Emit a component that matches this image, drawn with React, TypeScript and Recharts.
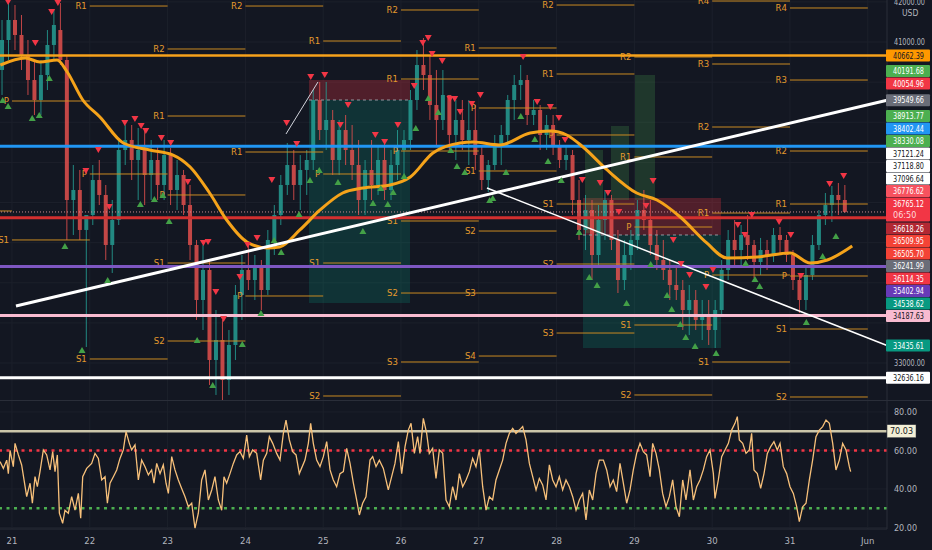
import React from "react";
import {
  ComposedChart,
  Bar,
  Line,
  Scatter,
  XAxis,
  YAxis,
  CartesianGrid,
  ReferenceLine,
  ReferenceArea,
} from "recharts";

const BG = "#131722";
const AXIS_TEXT = "#b2b5be";
const GRID = "#1c202b";
const UP = "#26a69a";
const DOWN = "#ef5350";
const PIVOT = "#c98a22";
const NARROW = "'Liberation Sans Narrow', 'DejaVu Sans Condensed', 'Liberation Sans', sans-serif";

const DAY_TICKS = [21, 22, 23, 24, 25, 26, 27, 28, 29, 30, 31, 32];
const X_DOMAIN: [number, number] = [20.8458, 32.247];
const PRICE_DOMAIN: [number, number] = [32079, 42047];
const RSI_DOMAIN: [number, number] = [19.22, 85.71];
const MAIN_H = 400;

// 2h candles, the first one opens 20 May 20:00
const BAR_START = 20.8333;
const opens = [
  40303, 41050, 41549, 41175, 40676, 40053, 39555, 40178, 40926, 41299,
  40552, 37063, 37312, 36316, 36689, 37561, 37188, 35942, 36565, 38309,
  38558, 38060, 38309, 37686, 38060, 37437, 38184, 37312, 37686, 36938,
  35942, 34571, 35319, 33076, 33574, 32577, 33450, 34696, 35319, 35069,
  35443, 34820, 36067, 36689, 37437, 37935, 37437, 37811, 38060, 39555,
  38807, 39057, 38060, 38807, 38309, 37935, 37063, 37811, 37437, 38060,
  37312, 37935, 38309, 38558, 39555, 40427, 40178, 39430, 39057, 39680,
  38683, 39057, 38558, 38807, 38184, 37561, 37935, 38434, 38683, 39555,
  39929, 40053, 39181, 39306, 38683, 38932, 38434, 38060, 38184, 37063,
  36316, 36814, 35692, 36565, 37063, 36067, 35069, 35692, 36067, 36814,
  36565, 35942, 35568, 35319, 34945, 34820, 34322, 34571, 34073, 34197,
  33823, 34322, 35319, 36067, 35817, 36191, 35942, 35518, 35817, 35692,
  36191, 36067, 35692, 35069, 34571, 35194, 35942, 36689, 36938, 37188,
  37063,
];
const highs = [
  41549, 41997, 41922, 41673, 41050, 40552, 40552, 41299, 41798, 41972,
  40676, 37935, 37811, 36565, 37935, 38060, 37437, 37063, 38558, 38932,
  38932, 38857, 38807, 38558, 38434, 38558, 38359, 38060, 37811, 37437,
  36067, 35942, 35568, 34322, 34073, 33823, 34945, 35692, 35942, 35692,
  35568, 36316, 36938, 37686, 38483, 38309, 38184, 38309, 39804, 40004,
  40004, 39306, 39057, 39181, 38932, 38558, 38060, 38558, 38434, 38558,
  38309, 38807, 38807, 39804, 40801, 41100, 40676, 40303, 40303, 39680,
  39555, 39555, 39555, 39430, 38434, 38060, 38683, 38932, 39680, 40178,
  40427, 40178, 39555, 39430, 39181, 39181, 38558, 38434, 38309, 37561,
  37188, 37063, 36938, 37312, 37188, 36316, 36067, 36316, 37063, 37312,
  37063, 36316, 36067, 35568, 35443, 35069, 34945, 34820, 34571, 34571,
  34571, 35568, 36316, 36565, 36440, 36689, 36067, 36117, 36067, 36365,
  36390, 36191, 35817, 35194, 35443, 36191, 36814, 37237, 37412, 37487,
  37437,
];
const lows = [
  39680, 40552, 40801, 40303, 39680, 39181, 39181, 39804, 40552, 40427,
  36067, 36191, 36067, 33400, 36440, 36938, 35568, 35244, 36440, 37935,
  37561, 37063, 36938, 37063, 37063, 37063, 36938, 36814, 36689, 35568,
  34073, 33823, 32453, 32204, 31950, 32204, 33076, 34073, 34820, 34571,
  34322, 34696, 35692, 36440, 37188, 37063, 36814, 37188, 37811, 38558,
  38309, 37686, 37686, 37935, 37561, 36689, 36689, 37063, 37188, 37063,
  37063, 37561, 37561, 38309, 39306, 39804, 39057, 38434, 38807, 38309,
  38060, 38309, 37935, 37811, 37312, 37262, 37811, 37935, 38434, 39057,
  39555, 38932, 38932, 38309, 38309, 38184, 37860, 37811, 36689, 36067,
  35817, 35069, 35443, 36067, 35817, 34745, 34820, 35319, 35817, 36316,
  35692, 35319, 35069, 34571, 34571, 33823, 33699, 33823, 33574, 33450,
  33375, 34197, 35069, 35443, 35443, 35568, 35119, 35194, 35319, 35518,
  35692, 35518, 34820, 34247, 34322, 35069, 35817, 36440, 36515, 36689,
  36739,
];
const closes = [
  41050, 41549, 41175, 40676, 40053, 39555, 40178, 40926, 41424, 40552,
  37063, 37312, 36316, 36689, 37561, 37188, 35942, 36565, 38309, 38558,
  38060, 38309, 37686, 38060, 37437, 38184, 37312, 37686, 36938, 35942,
  34571, 35319, 33076, 33574, 32577, 33450, 34696, 35319, 35069, 35443,
  34820, 36067, 36689, 37437, 37935, 37437, 37811, 38060, 39555, 38807,
  39057, 38060, 38807, 38309, 37935, 37063, 37811, 37437, 38060, 37312,
  37935, 38309, 38558, 39555, 40427, 40178, 39430, 39057, 39680, 38683,
  39057, 38558, 38807, 38184, 37561, 37935, 38434, 38683, 39555, 39929,
  40053, 39181, 39306, 38683, 38932, 38434, 38060, 38184, 37063, 36316,
  36814, 35692, 36565, 37063, 36067, 35069, 35692, 36067, 36814, 36565,
  35942, 35568, 35319, 34945, 34820, 34322, 34571, 34073, 34197, 33823,
  34322, 35319, 36067, 35817, 36191, 35942, 35518, 35817, 35692, 36191,
  36067, 35692, 35069, 34571, 35194, 35942, 36689, 36938, 37188, 37063,
  36765.12,
];

// moving average (time in days, price)
const maLine: [number, number][] = [
  [20.85, 40427], [21.17, 40602], [21.36, 40502], [21.58, 40552], [21.71, 40253],
  [21.91, 39555], [22.13, 39131], [22.43, 38483], [22.77, 38309], [23.07, 38184],
  [23.29, 37885], [23.54, 37237], [23.76, 36565], [24.02, 36017], [24.28, 35867],
  [24.44, 35892], [24.7, 36316], [24.96, 36814], [25.25, 37237], [25.51, 37362],
  [25.86, 37437], [26.12, 37636], [26.41, 38234], [26.76, 38483], [26.93, 38508],
  [27.27, 38434], [27.66, 38733], [27.92, 38782], [28.13, 38683], [28.34, 38384],
  [28.65, 37811], [29.03, 37237], [29.29, 37063], [29.59, 36639], [29.93, 35992],
  [30.19, 35618], [30.58, 35643], [31.0, 35742], [31.26, 35493], [31.48, 35568],
  [31.8, 35917],
];

const sellMarks: [number, number][] = [
  [20.95, 41997], [21.3, 40975], [21.51, 41748], [21.59, 41972], [21.95, 37786],
  [22.11, 38309], [22.25, 36889], [22.45, 38982], [22.58, 39082], [22.66, 38907],
  [22.72, 38782], [22.92, 38608], [23.04, 38483], [23.26, 37512], [23.46, 35991],
  [23.52, 36016], [23.62, 34770], [23.72, 34098], [23.93, 35144], [24.03, 35942],
  [24.15, 36117], [24.34, 37561], [24.53, 38982], [24.66, 38459], [24.84, 40128],
  [25.02, 40178], [25.22, 38932], [25.32, 39430], [25.67, 38683], [25.79, 38508],
  [25.96, 38932], [26.17, 39904], [26.28, 40975], [26.35, 41100], [26.4, 40701],
  [26.53, 40527], [26.63, 39580], [26.69, 39580], [26.76, 39256], [26.91, 39455],
  [27.02, 39680], [27.57, 40627], [27.75, 39505], [27.92, 39380], [28.03, 39107],
  [28.11, 38558], [28.33, 37561], [28.56, 37487], [28.66, 37237], [28.8, 36764],
  [29.15, 36914], [29.24, 37536], [29.5, 36067], [29.6, 35468], [29.71, 35194],
  [29.92, 34895], [30.01, 35319], [30.33, 36440], [30.42, 36191], [30.51, 36689],
  [30.86, 36515], [31.01, 36191], [31.14, 35169], [31.51, 37462], [31.69, 37661],
];
const buyMarks: [number, number][] = [
  [20.88, 39555], [20.95, 39405], [21.26, 39106], [21.35, 39181], [21.48, 40103],
  [21.68, 35917], [21.9, 33325], [22.23, 35069], [22.65, 36964], [22.83, 37088],
  [22.94, 37188], [23.02, 36540], [23.38, 33574], [23.58, 32453], [23.96, 33475],
  [24.2, 34247], [24.37, 36067], [24.46, 35767], [24.69, 36714], [24.83, 37561],
  [24.95, 37811], [25.19, 37512], [25.51, 36290], [25.64, 36988], [25.74, 37362],
  [25.83, 36964], [25.9, 37262], [26.04, 37661], [26.19, 38857], [26.35, 39605],
  [26.48, 39256], [26.64, 38309], [26.72, 37910], [26.82, 37761], [27.14, 37063],
  [27.18, 37113], [27.35, 37761], [27.54, 39156], [27.72, 38583], [27.89, 38035],
  [28.06, 37561], [28.29, 36265], [28.42, 35144], [28.52, 34945], [28.9, 34496],
  [29.21, 35468], [29.42, 34696], [29.48, 34347], [29.59, 33973], [29.66, 33649],
  [29.78, 33425], [30.05, 33250], [30.43, 35493], [30.55, 35094], [30.61, 34920],
  [31.21, 34023], [31.42, 35667], [31.59, 36166],
];

// daily pivot levels: [day, name, price]
const pivotRows: [number, string, number][] = [
  [20, "", 36789],
  [21, "P", 39530], [21, "S1", 36067],
  [22, "R1", 41897], [22, "P", 37711], [22, "S1", 33101],
  [23, "R2", 40826], [23, "R1", 39156], [23, "P", 37188], [23, "S1", 35493], [23, "S2", 33549],
  [24, "R2", 41897], [24, "R1", 38259], [24, "P", 34671],
  [25, "R1", 41025], [25, "P", 37711], [25, "S1", 35493], [25, "S2", 32179],
  [26, "R2", 41798], [26, "R1", 40078], [26, "P", 38284], [26, "S1", 36540], [26, "S2", 34745], [26, "S3", 33026],
  [27, "R1", 40851], [27, "P", 39356], [27, "S1", 37786], [27, "S2", 36290], [27, "S3", 34745], [27, "S4", 33175],
  [28, "R2", 41922], [28, "R1", 40203], [28, "P", 38683], [28, "S1", 36963], [28, "S2", 35468], [28, "S3", 33748],
  [29, "R2", 40627], [29, "R1", 38135], [29, "P", 36390], [29, "S1", 33948], [29, "S2", 32204],
  [30, "R4", 42022], [30, "R3", 40452], [30, "R2", 38882], [30, "R1", 36739], [30, "P", 35194], [30, "S1", 33026],
  [31, "R4", 41848], [31, "R3", 40053], [31, "R2", 38284], [31, "R1", 36963], [31, "P", 35169], [31, "S1", 33848], [31, "S2", 32154],
];

// horizontal levels drawn across the chart
const levelPrices = [40662.39, 38402.44, 36618.26, 35402.94, 34187.63, 32636.16];
const levelColors = ["#f7a21b", "#2196f3", "#d32f2f", "#7e57c2", "#f8bbd0", "#ffffff"];

// trend lines [t1, p1, t2, p2]
const trendThick: [number, number, number, number] = [21.051, 34421, 32.247, 39549.66];
const trendThin: [number, number, number, number] = [27.105, 37362, 32.247, 33435.61];
const trendShort: [number, number, number, number] = [24.522, 38708, 24.933, 40004];

// short position boxes [t1, t2, stop, entry, target]
const positions: [number, number, number, number, number][] = [
  [24.817, 26.116, 40053, 39555, 34496],
  [28.339, 30.113, 37113, 36191, 33375],
];
const greenBoxes: [number, number, number, number][] = [
  [28.365, 28.597, 38309, 36241],
  [28.699, 28.931, 38907, 37063],
  [29.008, 29.265, 40178, 37063],
];

// price scale tags
const tagPrices = [
  40662.39, 40191.68, 40054.96, 39549.66, 38913.77, 38402.44, 38330.08, 37121.24,
  37118.8, 37096.64, 36776.62, 36765.12, 36618.26, 36509.95, 36505.7, 36241.99,
  36114.35, 35402.94, 34538.62, 34187.63, 33435.61, 32636.16,
];
const tagColors = [
  "#ff9800", "#4caf50", "#f23645", "#6a6d78", "#4caf50", "#2196f3", "#4caf50", "#ffffff",
  "#ffffff", "#ffffff", "#f7525f", "#f23645", "#b22833", "#f44336", "#f44336", "#6a6d78",
  "#f23645", "#673ab7", "#089981", "#f8bbd0", "#089981", "#ffffff",
];
const tagDarkText = [
  true, false, false, false, false, false, false, true,
  true, true, false, false, false, false, false, false,
  false, false, false, true, false, true,
];
const CURRENT_PRICE = 36765.12;
const COUNTDOWN = "06:50";
const plainPriceTicks = [33000, 41000, 42000];

const rsiLine: [number, number][] = [
  [20.846, 54.2], [20.889, 50.7], [20.932, 55], [20.953, 48], [20.975, 60], [21.017, 51.6],
  [21.039, 63.7], [21.082, 57.7], [21.124, 52.5], [21.189, 36], [21.232, 43], [21.262, 32.6],
  [21.296, 46.4], [21.326, 41.2], [21.36, 49], [21.403, 60.3], [21.446, 57.7], [21.489, 49.9],
  [21.523, 59.4], [21.553, 49], [21.583, 57.7], [21.609, 27.4], [21.651, 22.2], [21.681, 29],
  [21.724, 27.4], [21.767, 36], [21.81, 29], [21.853, 37.7], [21.883, 24.8], [21.909, 46.4],
  [21.96, 50.7], [22.024, 53.3], [22.067, 58.5], [22.11, 55.9], [22.153, 44.7], [22.196, 46.4],
  [22.226, 32.6], [22.26, 43], [22.303, 46.4], [22.346, 49.9], [22.388, 55.9], [22.431, 60.3],
  [22.466, 69.8], [22.508, 63.7], [22.538, 60.3], [22.581, 62.9], [22.624, 44.7], [22.667, 55],
  [22.71, 51.6], [22.753, 47.3], [22.795, 49.9], [22.825, 43], [22.86, 53.3], [22.903, 48],
  [22.945, 52.5], [22.98, 43], [23.01, 37.7], [23.053, 56.8], [23.095, 49.9], [23.138, 44.7],
  [23.181, 40.3], [23.224, 36], [23.267, 30.8], [23.31, 32.6], [23.352, 19.6], [23.395, 27.4],
  [23.438, 44.7], [23.481, 49.9], [23.524, 34.3], [23.567, 39.5], [23.609, 46.4], [23.652, 34.3],
  [23.695, 29], [23.725, 46.4], [23.759, 43], [23.802, 48], [23.845, 53.3], [23.888, 57.7],
  [23.931, 59.4], [23.974, 55.9], [24.017, 68], [24.051, 56.8], [24.094, 60.3], [24.145, 58.5],
  [24.196, 44.7], [24.231, 55], [24.274, 58.5], [24.308, 67.2], [24.351, 63.7], [24.402, 58.5],
  [24.445, 55], [24.488, 68.9], [24.522, 75.8], [24.565, 65.5], [24.608, 59.4], [24.651, 57.7],
  [24.693, 48], [24.766, 55], [24.809, 63.7], [24.839, 74.1], [24.873, 63.7], [24.916, 55],
  [24.959, 51.6], [25.002, 56.8], [25.045, 64.6], [25.088, 49.9], [25.13, 44.7], [25.173, 41.2],
  [25.216, 48], [25.259, 49], [25.302, 61.1], [25.345, 53.3], [25.388, 43], [25.43, 34.3],
  [25.465, 26.5], [25.507, 32.6], [25.55, 36], [25.602, 55], [25.636, 56.8], [25.679, 51.6],
  [25.722, 55], [25.773, 50.7], [25.837, 39.5], [25.88, 46.4], [25.923, 53.3], [25.966, 64.6],
  [26.009, 48], [26.052, 62], [26.094, 70.6], [26.129, 74.1], [26.172, 58.5], [26.214, 67.2],
  [26.244, 58.5], [26.287, 76.7], [26.33, 68.9], [26.364, 58.5], [26.407, 61.1], [26.45, 45.5],
  [26.493, 60.3], [26.536, 58.5], [26.579, 34.3], [26.621, 30.8], [26.664, 41.2], [26.707, 34.3],
  [26.75, 48], [26.793, 41.2], [26.836, 44.7], [26.879, 49], [26.921, 55.9], [26.964, 51.6],
  [27.007, 60.3], [27.05, 41.2], [27.093, 29], [27.136, 36], [27.178, 34.3], [27.221, 44.7],
  [27.264, 49.9], [27.307, 55], [27.35, 63.7], [27.393, 68.9], [27.436, 71.5], [27.478, 68.9],
  [27.521, 70.6], [27.564, 72.4], [27.607, 65.5], [27.65, 53.3], [27.693, 46.4], [27.736, 39.5],
  [27.778, 45.5], [27.821, 42.1], [27.864, 34.3], [27.907, 52.5], [27.95, 44.7], [27.993, 41.2],
  [28.035, 46.4], [28.078, 39.5], [28.121, 44.7], [28.164, 41.2], [28.207, 36], [28.25, 29],
  [28.292, 34.3], [28.335, 37.7], [28.378, 23.9], [28.421, 39.5], [28.464, 34.3], [28.507, 48],
  [28.549, 55], [28.601, 55], [28.644, 49.9], [28.687, 41.2], [28.729, 44.7], [28.772, 38.6],
  [28.815, 53.3], [28.858, 43], [28.901, 32.6], [28.944, 39.5], [28.986, 49.9], [29.029, 58.5],
  [29.072, 63.7], [29.115, 59.4], [29.158, 57.7], [29.201, 46.4], [29.235, 63.7], [29.278, 58.5],
  [29.321, 49.9], [29.363, 37.7], [29.406, 30.8], [29.449, 36], [29.492, 44.7], [29.535, 30.8],
  [29.578, 25.6], [29.621, 44.7], [29.663, 34.3], [29.715, 49.9], [29.758, 34.3], [29.801, 41.2],
  [29.843, 44.7], [29.886, 49.9], [29.929, 56.8], [29.972, 60.3], [30.015, 48], [30.036, 35.1],
  [30.079, 44.7], [30.122, 56.8], [30.165, 60.3], [30.208, 63.7], [30.25, 70.6], [30.293, 74.1],
  [30.323, 77.6], [30.349, 65.5], [30.392, 63.7], [30.435, 58.5], [30.477, 60.3], [30.507, 68.9],
  [30.537, 49.9], [30.58, 48], [30.623, 40.3], [30.666, 48], [30.709, 58.5], [30.752, 62],
  [30.794, 64.6], [30.837, 60.3], [30.872, 63.7], [30.914, 51.6], [30.957, 48], [31.0, 41.2],
  [31.043, 37.7], [31.086, 30.8], [31.12, 23], [31.163, 30.8], [31.206, 32.6], [31.249, 44.7],
  [31.291, 55], [31.334, 67.2], [31.377, 70.6], [31.42, 72.4], [31.463, 75.8], [31.506, 74.1],
  [31.549, 63.7], [31.591, 49.9], [31.634, 55], [31.677, 63.7], [31.72, 60.3], [31.763, 51.6],
  [31.78, 49],
];
const rsiTicks = [20, 40, 60, 80];
const RSI_HLINE = 70.03;

const candles = closes.map((c, i) => ({
  t: BAR_START + (i + 0.5) / 12,
  o: opens[i],
  h: highs[i],
  l: lows[i],
  c,
}));
const maData = maLine.map(([t, v]) => ({ t, v }));
const sellData = sellMarks.map(([t, p]) => ({ t, p }));
const buyData = buyMarks.map(([t, p]) => ({ t, p }));
const rsiData = rsiLine.map(([t, v]) => ({ t, v }));

// stack the price tags so they don't overlap (same idea as the price scale)
const TAG_STEP = (12.5 * (PRICE_DOMAIN[1] - PRICE_DOMAIN[0])) / MAIN_H;
function layoutTags(): number[] {
  const items = tagPrices
    .map((p, i) => ({
      i,
      top: -p - TAG_STEP / 2,
      h: p === CURRENT_PRICE ? 2 * TAG_STEP : TAG_STEP,
    }))
    .sort((a, b) => a.top - b.top);
  const fit = (list: typeof items) => {
    let acc = 0;
    let sum = 0;
    list.forEach((it) => {
      sum += it.top - acc;
      acc += it.h;
    });
    const start = sum / list.length;
    return { items: list, start, end: start + acc };
  };
  const clusters = items.map((it) => fit([it]));
  let changed = true;
  while (changed) {
    changed = false;
    for (let k = 0; k < clusters.length - 1; k++) {
      if (clusters[k].end > clusters[k + 1].start + 0.01) {
        clusters.splice(k, 2, fit([...clusters[k].items, ...clusters[k + 1].items]));
        changed = true;
        break;
      }
    }
  }
  const out: number[] = new Array(tagPrices.length);
  clusters.forEach((cl) => {
    let acc = cl.start;
    cl.items.forEach((it) => {
      out[it.i] = -(acc + TAG_STEP / 2);
      acc += it.h;
    });
  });
  return out;
}
const tagDisplay = layoutTags();
const tagIndexByValue = new Map<number, number>();
tagDisplay.forEach((v, i) => tagIndexByValue.set(v, i));
const priceTicks = [...plainPriceTicks, ...tagDisplay].sort((a, b) => a - b);

function Candle(props: any) {
  const { x, y, width, height, payload } = props;
  if (!payload || height == null) return null;
  const { o, h, l, c } = payload;
  const color = c >= o ? UP : DOWN;
  const span = h - l || 1;
  const yOf = (v: number) => y + ((h - v) / span) * height;
  const top = yOf(Math.max(o, c));
  const bot = yOf(Math.min(o, c));
  const cx = x + width / 2;
  return (
    <g opacity={0.8}>
      <line x1={cx} x2={cx} y1={y} y2={y + height} stroke={color} strokeWidth={1} />
      <rect x={x} y={top} width={width} height={Math.max(1, bot - top)} fill={color} />
    </g>
  );
}

function Triangle(props: any) {
  const { cx, cy, down } = props;
  if (cx == null || cy == null) return null;
  const pts = down
    ? `${cx - 3.5},${cy - 3} ${cx + 3.5},${cy - 3} ${cx},${cy + 3}`
    : `${cx - 3.5},${cy + 3} ${cx + 3.5},${cy + 3} ${cx},${cy - 3}`;
  return <polygon points={pts} fill={down ? "#f23645" : "#43a047"} />;
}

function PriceTick(props: any) {
  const { x, y, payload } = props;
  const value = payload.value as number;
  const idx = tagIndexByValue.get(value);
  if (idx === undefined) {
    return (
      <g>
        <text x={x + 7} y={y} dy={3.2} fill={AXIS_TEXT} fontSize={9.5} fontFamily={NARROW} textLength={31} lengthAdjust="spacingAndGlyphs">
          {value.toFixed(2)}
        </text>
        {value === 42000 && (
          <text x={x + 15} y={y + 11} dy={3.2} fill={AXIS_TEXT} fontSize={8.5} fontFamily={NARROW}>
            USD
          </text>
        )}
      </g>
    );
  }
  const price = tagPrices[idx];
  const isCurrent = price === CURRENT_PRICE;
  const fg = tagDarkText[idx] ? "#131722" : "#ffffff";
  return (
    <g>
      <rect x={x - 1} y={y - 6} width={44} height={isCurrent ? 24 : 12} fill={tagColors[idx]} rx={1} />
      <text x={x + 6} y={y} dy={3.2} fill={fg} fontSize={9.5} fontFamily={NARROW} textLength={31} lengthAdjust="spacingAndGlyphs">
        {price.toFixed(2)}
      </text>
      {isCurrent && (
        <text x={x + 6} y={y + 11} dy={3.2} fill="#ffd9dc" fontSize={9} fontFamily={NARROW}>
          {COUNTDOWN}
        </text>
      )}
    </g>
  );
}

function RsiTick(props: any) {
  const { x, y, payload } = props;
  const value = payload.value as number;
  if (value === RSI_HLINE) {
    return (
      <g>
        <rect x={x} y={y - 6.5} width={29} height={13} fill="#f3efd6" stroke="#2a2e39" strokeWidth={0.5} />
        <text x={x + 3} y={y} dy={3.2} fill="#131722" fontSize={9.5} fontFamily={NARROW} textLength={23} lengthAdjust="spacingAndGlyphs">
          {value.toFixed(2)}
        </text>
      </g>
    );
  }
  return (
    <text x={x + 7} y={y} dy={3.2} fill={AXIS_TEXT} fontSize={9.5} fontFamily={NARROW} textLength={23} lengthAdjust="spacingAndGlyphs">
      {value.toFixed(2)}
    </text>
  );
}

function PivotLabel(props: any) {
  const { viewBox, value } = props;
  if (!viewBox || !value) return null;
  return (
    <text x={viewBox.x - 3} y={viewBox.y} dy={3.3} textAnchor="end" fill="#e39a2d" fontSize={9.5} fontFamily={NARROW}>
      {value}
    </text>
  );
}

export default function App() {
  return (
    <div
      style={{
        position: "absolute",
        left: 0,
        top: 0,
        width: 932,
        height: 550,
        background: BG,
        overflow: "hidden",
      }}
    >
      <ComposedChart width={932} height={MAIN_H} data={candles} margin={{ top: 0, right: 0, bottom: 0, left: 0 }}>
        <CartesianGrid stroke={GRID} verticalValues={DAY_TICKS} horizontalValues={[33000, 34000, 35000, 36000, 37000, 38000, 39000, 40000, 41000, 42000]} />
        <XAxis dataKey="t" type="number" domain={X_DOMAIN} ticks={DAY_TICKS} allowDataOverflow hide />
        {/* own hidden axis for the candles, so the bar width comes from the 2h spacing only */}
        <XAxis xAxisId="candle" dataKey="t" type="number" domain={X_DOMAIN} allowDataOverflow hide />
        <YAxis
          orientation="right"
          width={45}
          type="number"
          domain={PRICE_DOMAIN}
          allowDataOverflow
          ticks={priceTicks}
          interval={0}
          tickLine={false}
          tickSize={0}
          tickMargin={0}
          axisLine={{ stroke: "#2a2e39" }}
          tick={<PriceTick />}
        />

        {positions.map(([t1, t2, stop, entry], i) => (
          <ReferenceArea key={`ps${i}`} x1={t1} x2={t2} y1={entry} y2={stop} fill="#f23645" fillOpacity={0.28} stroke="none" />
        ))}
        {positions.map(([t1, t2, , entry, target], i) => (
          <ReferenceArea key={`pt${i}`} x1={t1} x2={t2} y1={target} y2={entry} fill="#089981" fillOpacity={0.22} stroke="none" />
        ))}
        {greenBoxes.map(([t1, t2, p1, p2], i) => (
          <ReferenceArea key={`gb${i}`} x1={t1} x2={t2} y1={p2} y2={p1} fill="#4caf50" fillOpacity={0.22} stroke="none" />
        ))}
        {positions.map(([t1, t2, , entry], i) => (
          <ReferenceLine
            key={`pe${i}`}
            segment={[{ x: t1, y: entry }, { x: t2, y: entry }]}
            stroke="#9598a1"
            strokeDasharray="3 3"
            strokeWidth={1}
          />
        ))}

        {pivotRows.map(([day, name, price], i) => (
          <ReferenceLine
            key={`pv${i}`}
            segment={[{ x: day, y: price }, { x: day + 1, y: price }]}
            stroke={PIVOT}
            strokeWidth={1}
            ifOverflow="hidden"
            label={name ? <PivotLabel value={name} /> : undefined}
          />
        ))}

        {levelPrices.map((p, i) => (
          <ReferenceLine key={`lv${i}`} y={p} stroke={levelColors[i]} strokeWidth={i === 0 ? 2.5 : 3} />
        ))}
        <ReferenceLine y={CURRENT_PRICE} stroke="#c98b92" strokeDasharray="1 2" strokeWidth={1} />

        <Bar xAxisId="candle" dataKey={(d: any) => [d.l, d.h]} barSize={4} shape={<Candle />} isAnimationActive={false} />
        <Line
          data={maData}
          dataKey="v"
          type="monotone"
          stroke="#f5a31a"
          strokeWidth={3}
          dot={false}
          activeDot={false}
          isAnimationActive={false}
        />

        <ReferenceLine
          segment={[{ x: trendThick[0], y: trendThick[1] }, { x: trendThick[2], y: trendThick[3] }]}
          stroke="#ffffff"
          strokeWidth={3}
        />
        <ReferenceLine
          segment={[{ x: trendThin[0], y: trendThin[1] }, { x: trendThin[2], y: trendThin[3] }]}
          stroke="#ffffff"
          strokeWidth={1.5}
        />
        <ReferenceLine
          segment={[{ x: trendShort[0], y: trendShort[1] }, { x: trendShort[2], y: trendShort[3] }]}
          stroke="#d1d4dc"
          strokeWidth={1}
        />

        <Scatter data={sellData} dataKey="p" shape={<Triangle down />} isAnimationActive={false} />
        <Scatter data={buyData} dataKey="p" shape={<Triangle />} isAnimationActive={false} />
      </ComposedChart>

      <div style={{ position: "absolute", left: 0, top: MAIN_H, width: 932, height: 1, background: "#2a2e39" }} />

      <div style={{ position: "absolute", left: 0, top: MAIN_H, width: 932, height: 150 }}>
        <ComposedChart width={932} height={150} data={rsiData} margin={{ top: 1, right: 0, bottom: 0, left: 0 }}>
          <CartesianGrid stroke={GRID} verticalValues={DAY_TICKS} horizontalValues={rsiTicks} />
          <XAxis
            dataKey="t"
            type="number"
            domain={X_DOMAIN}
            ticks={DAY_TICKS}
            allowDataOverflow
            interval={0}
            height={21}
            tickLine={false}
            tickMargin={2}
            axisLine={{ stroke: "#2a2e39" }}
            tick={{ fill: AXIS_TEXT, fontSize: 9.5, fontFamily: NARROW }}
            tickFormatter={(d: number) => (d === 32 ? "Jun" : String(d))}
          />
          <YAxis
            orientation="right"
            width={45}
            type="number"
            domain={RSI_DOMAIN}
            allowDataOverflow
            ticks={[...rsiTicks, RSI_HLINE]}
            interval={0}
            tickLine={false}
            tickSize={0}
            tickMargin={0}
            axisLine={{ stroke: "#2a2e39" }}
            tick={<RsiTick />}
          />
          <ReferenceLine y={RSI_HLINE} stroke="#cbc6aa" strokeWidth={2.5} />
          <ReferenceLine y={60} stroke="#f23645" strokeWidth={2.5} strokeDasharray="3 4.5" />
          <ReferenceLine y={30} stroke="#4caf50" strokeWidth={2.5} strokeDasharray="3 4.5" />
          <Line dataKey="v" type="linear" stroke="#f7c07a" strokeWidth={1.3} dot={false} activeDot={false} isAnimationActive={false} />
        </ComposedChart>
      </div>
    </div>
  );
}
